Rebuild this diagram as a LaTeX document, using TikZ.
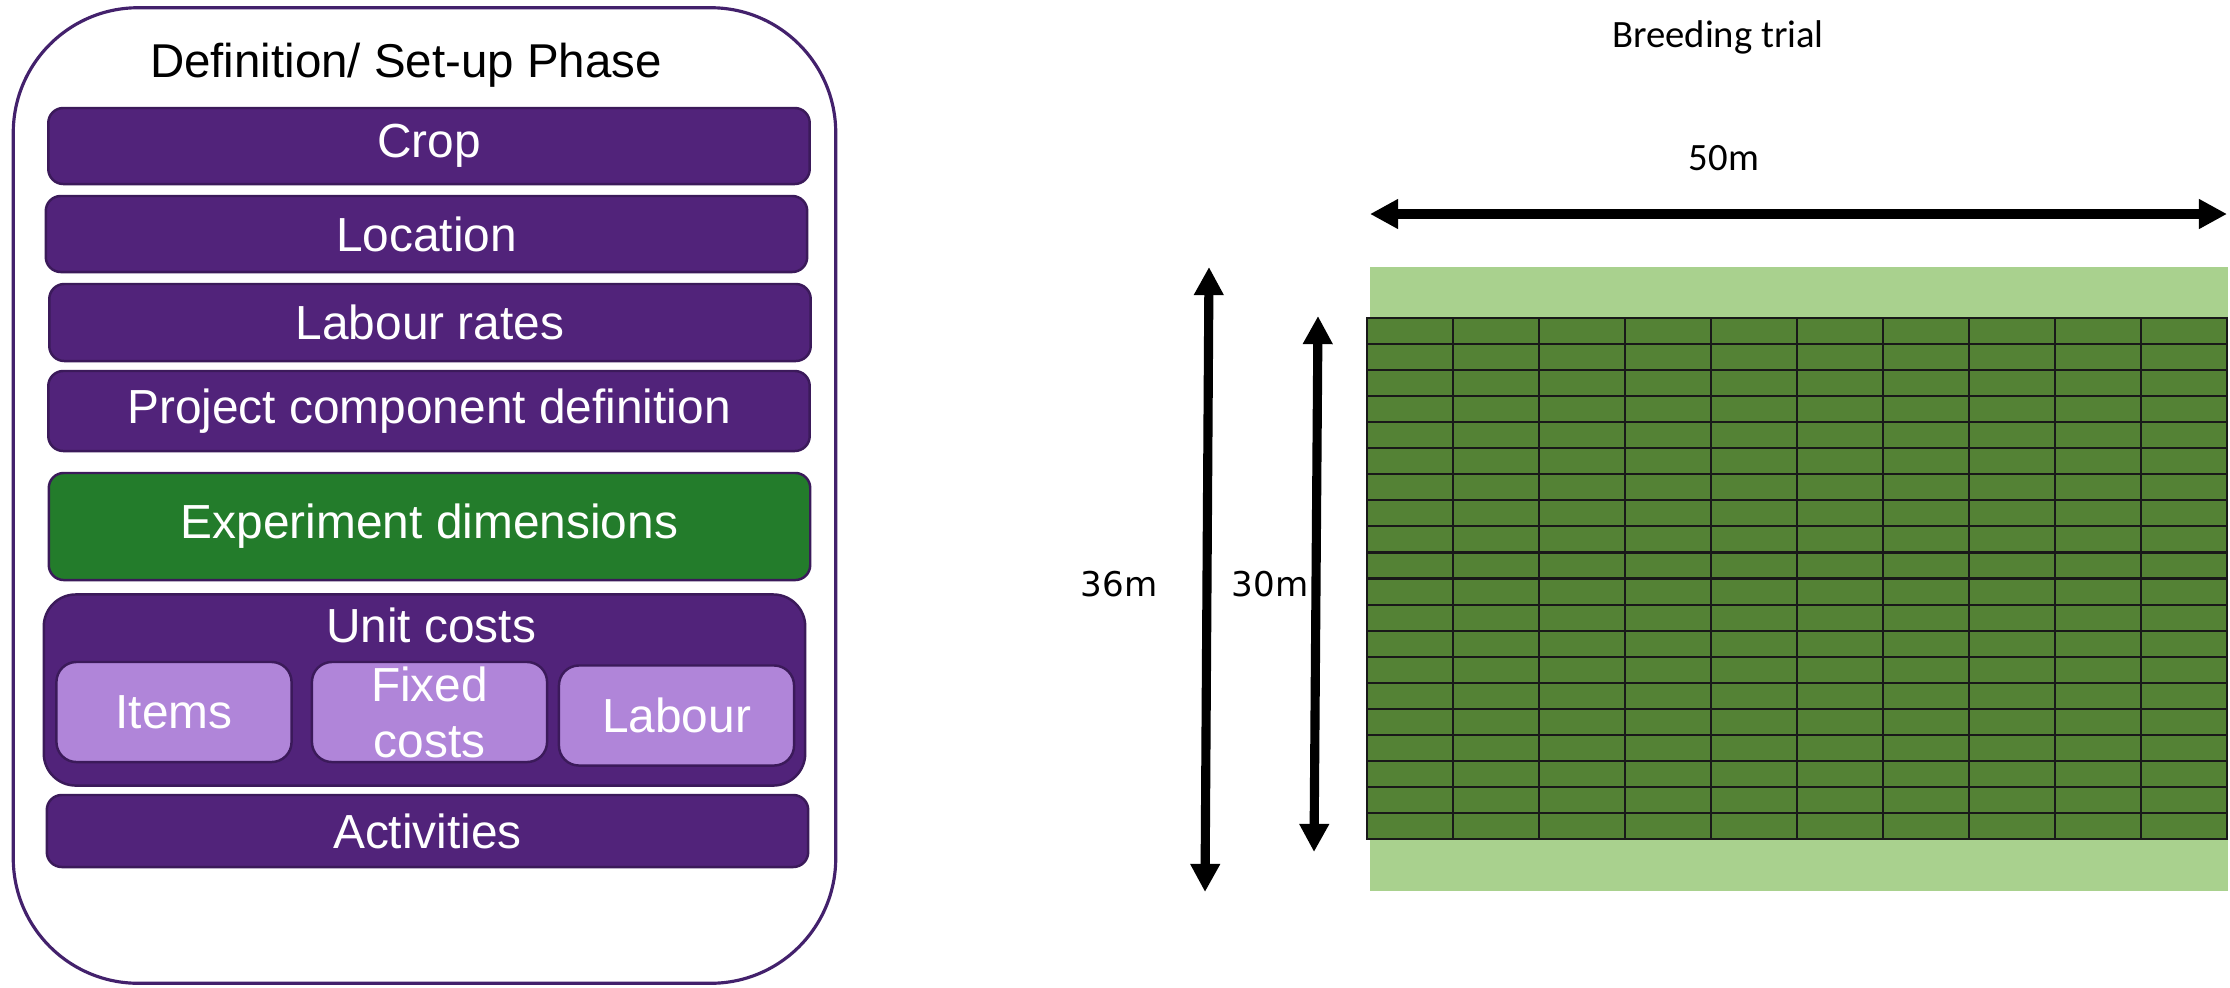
\documentclass[tikz,border=0pt]{standalone}
\usepackage{fontspec}
\setmainfont{Liberation Sans}
\newfontfamily\calibfont{Carlito}
\newfontfamily\dejafont{DejaVu Sans}
\usetikzlibrary{arrows.meta}

\definecolor{phasepurple}{HTML}{51237A}
\definecolor{phaseedge}{HTML}{3B1A5A}
\definecolor{outeredge}{HTML}{43216C}
\definecolor{dimgreen}{HTML}{237C2B}
\definecolor{sublilac}{HTML}{B085D9}
\definecolor{plotgreen}{HTML}{548235}
\definecolor{bordergreen}{HTML}{A9D18E}

\tikzset{
  outerbox/.style={draw=outeredge, line width=0.9pt, fill=white, rounded corners=1.25cm,
    minimum width=8.22cm, minimum height=9.75cm, inner sep=0pt},
  pbox/.style={draw=phaseedge, line width=0.7pt, fill=phasepurple, rounded corners=0.15cm,
    text=white, font=\fontsize{13.6}{16}\selectfont, minimum width=7.61cm, inner sep=0pt},
  gbox/.style={pbox, fill=dimgreen},
  cbox/.style={pbox, rounded corners=0.32cm},
  subbox/.style={draw=phaseedge, line width=0.7pt, fill=sublilac, rounded corners=0.2cm,
    text=white, font=\fontsize{13.6}{15.9}\selectfont, align=center,
    minimum width=2.35cm, minimum height=1.0cm, inner sep=0pt},
  whitelabel/.style={text=white, font=\fontsize{13.6}{16}\selectfont, inner sep=0pt},
  titlelabel/.style={font=\fontsize{13.5}{16}\selectfont, inner sep=0pt},
  caplabel/.style={font=\calibfont\fontsize{11}{13}\selectfont, inner sep=0pt},
  dimlabel/.style={font=\dejafont\fontsize{9.7}{11}\selectfont, inner sep=0pt},
  dimarrow/.style={line width=2.6pt,
    {Triangle[length=8pt,width=8pt]}-{Triangle[length=8pt,width=8pt]}},
  gridline/.style={draw=black!90, line width=0.6pt},
}

\begin{document}
\begin{tikzpicture}[x=0.01cm,y=-0.01cm]
\useasboundingbox (0,0) rectangle (2230,987);

% ---- set-up phase column ----
\node[outerbox] (phase) at (424.5,495.5) {};
\node[titlelabel, anchor=base] (title) at (406,77) {Definition/ Set-up Phase};

\node[pbox, minimum height=0.76cm] (crop)     at (429,146)   {Crop};
\node[pbox, minimum height=0.76cm] (location) at (426.5,234) {Location};
\node[pbox, minimum height=0.77cm] (rates)    at (430,322.5) {Labour rates};
\node[pbox, minimum height=0.80cm] (project)  at (429,411)   {Project component definition};
\node[gbox, minimum height=1.07cm] (expdim)   at (429.5,526.5) {Experiment dimensions};

\node[cbox, minimum height=1.91cm] (unitcosts) at (424.5,690) {};
\node[whitelabel, anchor=base] (unitlabel) at (431,642) {Unit costs};
\node[subbox] (items)  at (174,712)   {Items};
\node[subbox] (fixed)  at (429.5,712) {Fixed\\costs};
\node[subbox] (labour) at (676.5,715.5) {Labour};

\node[pbox, minimum height=0.72cm] (activities) at (427.5,831) {Activities};

% ---- breeding trial field plan ----
\node[caplabel, anchor=base] (trial) at (1718,47) {Breeding trial};
\node[caplabel, anchor=base] (width) at (1724,170) {50m};

\fill[bordergreen] (1370,267) rectangle (2228,891);
\fill[plotgreen] (1367,318) rectangle (2227,839);
\foreach \i in {1,...,9}
  \draw[gridline] ({1367+86*\i},318) -- ({1367+86*\i},839);
\foreach \j in {1,...,19}
  \draw[gridline] (1367,{318+26.05*\j}) -- (2227,{318+26.05*\j});
\draw[gridline] (1367,318) rectangle (2227,839);

\coordinate (wl) at (1370,214);
\coordinate (wr) at (2227,214);
\draw[dimarrow] (wl) -- (wr);

\coordinate (ot) at (1209,267);
\coordinate (ob) at (1205,892);
\draw[dimarrow] (ot) -- (ob);
\node[dimlabel] (outerlen) at (1119,584) {36m};

\coordinate (it) at (1318,316);
\coordinate (ib) at (1314,852);
\draw[dimarrow] (it) -- (ib);
\node[dimlabel] (innerlen) at (1270,584) {30m};
\end{tikzpicture}
\end{document}
